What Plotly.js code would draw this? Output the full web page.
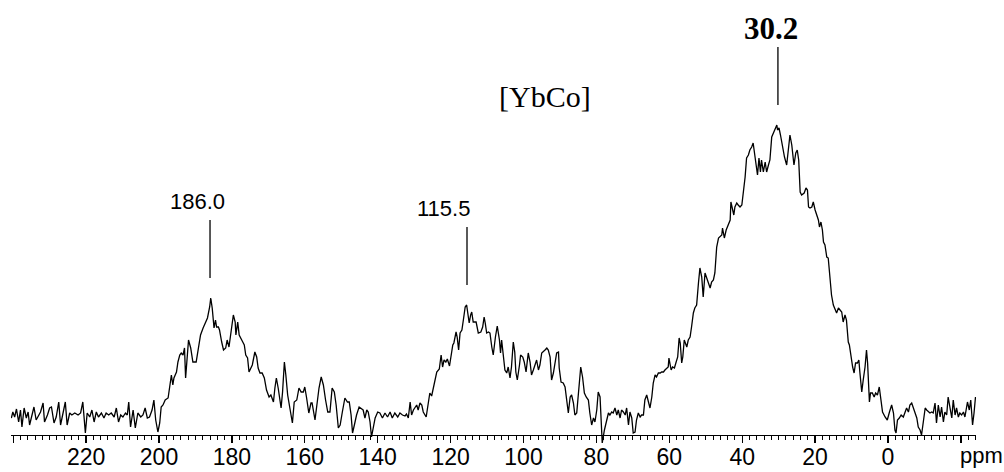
<!DOCTYPE html>
<html>
<head>
<meta charset="utf-8">
<script src="https://cdn.plot.ly/plotly-3.0.1.min.js"></script>
<style>
  html, body { margin: 0; padding: 0; background: #fff; }
  #plot { width: 1004px; height: 472px; }
</style>
</head>
<body>
<div id="plot"></div>
<script>
// 13C MAS NMR spectrum of [YbCo]: chemical shift (ppm) and intensity (arbitrary units)
const shiftPpm = [
  // baseline, high-field side of 200 ppm
  240.5, 240.1, 239.6, 239.1, 238.5, 238.0, 237.6, 237.0, 236.4, 235.9,
  235.5, 234.8, 234.3, 233.7, 233.0, 232.5, 231.8, 231.4, 230.6, 230.0,
  229.5, 228.8, 228.2, 227.5, 227.0, 226.3, 225.7, 225.2, 224.5, 223.9,
  223.1, 222.2, 221.5, 220.9, 220.2, 219.7, 219.0, 218.4, 217.8, 217.2,
  216.6, 215.8, 215.1, 214.5, 213.8, 213.1, 212.3, 211.7, 211.1, 210.5,
  209.9, 209.2, 208.7, 208.3, 207.8, 207.1, 206.5, 205.8, 205.0, 204.4,
  203.8, 203.2, 202.6, 201.9, 201.4, 200.9, 200.3, 199.8, 199.4, 198.9,
  198.3, 197.5, 197.1, 196.6, 196.2, 195.9, 195.2, 194.8, 194.3, 193.9,
  193.4, 193.0, 192.7, 192.2, 191.9, 191.3, 190.7, 189.8, 189.1, 188.6,
  187.9, 187.3, 186.7, 186.1, 185.8,
  // band around 186 ppm
  185.4, 184.9, 184.5, 184.2, 183.7, 183.4, 182.8, 182.3, 181.7, 181.3,
  180.8, 180.2, 179.6, 179.1, 178.9, 178.4, 178.0, 177.3, 176.6, 176.2,
  175.7, 175.3, 174.8, 174.4, 173.7, 173.2, 172.8, 172.3, 171.7, 171.1,
  170.5, 169.8, 169.3, 168.6, 168.2, 167.8, 167.3, 166.5, 166.1, 165.6,
  165.2, 164.7, 164.1, 163.4, 162.9, 162.2, 161.6, 161.0, 160.4, 160.0,
  159.5, 158.9, 158.3, 158.0, 157.2, 156.7, 156.1, 155.5, 154.9, 154.3,
  153.7, 153.1, 152.5, 151.9, 151.4, 150.8, 150.3, 149.7, 149.0, 148.3,
  147.8, 147.3, 146.9, 146.4, 145.8, 145.1, 144.6, 144.0, 143.5, 143.0,
  142.6, 142.1, 141.7, 141.2, 140.7, 140.0, 139.4, 138.7, 138.0, 137.3,
  136.6, 136.0, 135.3, 134.5, 133.9, 133.2,
  // band around 115 ppm
  132.5, 132.1, 131.6, 131.1, 130.7, 130.2, 129.8, 129.3, 128.9, 128.4,
  127.9, 127.5, 126.7, 126.4, 126.0, 125.7, 125.2, 124.7, 124.3, 123.8,
  123.1, 122.6, 122.2, 121.8, 121.3, 120.9, 120.3, 120.0, 119.4, 119.1,
  118.5, 118.2, 117.8, 117.4, 116.9, 116.5, 116.0, 115.6, 115.1, 114.9,
  114.5, 114.2, 113.8, 113.0, 112.4, 111.7, 111.2, 110.8, 110.5, 110.1,
  109.6, 109.2, 108.7, 108.3, 107.7, 107.2, 106.6, 106.3, 106.0, 105.5,
  105.1, 104.6, 104.2, 103.7, 103.3, 102.8, 102.4, 102.1, 101.7, 101.1,
  100.8, 100.2, 99.8, 99.3, 98.7, 98.2, 97.8, 97.3, 96.9, 96.4,
  95.9, 95.5, 95.0, 94.6, 94.1, 93.6, 93.2, 92.7, 92.3, 91.8,
  91.4, 90.9, 90.4, 90.2, 89.7, 89.1, 88.6, 88.1, 87.7, 87.2,
  86.8, 86.3, 85.9, 85.4, 85.0, 84.3, 83.8, 83.3, 82.8, 82.2,
  81.8, 81.3, 80.8, 80.4, 79.9, 79.5,
  // band around 30 ppm
  79.0, 78.7, 78.4, 77.8, 77.2, 76.7, 76.3, 75.8, 75.4, 74.9,
  74.4, 74.0, 73.5, 73.1, 72.6, 72.1, 71.7, 71.2, 70.8, 70.3,
  69.9, 69.4, 69.0, 68.5, 68.0, 67.6, 67.1, 66.7, 66.2, 65.8,
  65.3, 64.8, 64.4, 63.9, 63.5, 63.0, 62.5, 62.1, 61.6, 61.2,
  60.7, 60.3, 60.1, 59.5, 59.1, 58.6, 58.2, 57.7, 57.3, 57.0,
  56.6, 56.3, 55.9, 55.2, 54.8, 54.3, 53.9, 53.4, 53.0, 52.5,
  52.0, 51.6, 51.1, 50.7, 50.2, 49.8, 49.3, 48.8, 48.4, 47.9,
  47.5, 47.0, 46.5, 46.1, 45.6, 45.4, 44.9, 44.4, 44.0, 43.6,
  43.3, 43.1, 42.7, 42.3, 42.0, 41.5, 41.1, 40.6, 40.1, 39.7,
  39.2, 38.8, 38.3, 37.9, 37.4, 37.0, 36.7, 36.2, 35.8, 35.4,
  35.0, 34.7, 34.2, 33.7, 33.3, 32.8, 32.4, 31.9, 31.5, 31.0,
  30.5, 30.3, 29.9, 29.5, 29.0, 28.4, 27.8, 27.3,
  26.9, 26.4, 25.8, 25.3, 24.9, 24.5, 24.1, 23.7, 23.0, 22.5,
  22.1, 21.8, 21.4, 20.9, 20.5, 20.0, 19.6, 19.1, 18.8, 18.4,
  18.0, 17.7, 17.3, 16.8, 16.4, 15.9, 15.5, 15.0, 14.5, 14.1,
  13.6, 13.2, 12.7, 12.3, 11.8, 11.4, 10.9, 10.6, 10.2, 9.7,
  9.3, 8.9, 8.4, 8.0, 7.7, 7.2, 6.8, 6.3, 5.9, 5.6,
  5.1, 4.8, 4.3, 3.8, 3.4, 2.9, 2.4, 1.9, 1.5, 0.8,
  // baseline, low-field end
  0.2, -0.4, -1.0, -1.5, -1.9, -2.2, -2.6, -3.1, -3.6, -4.2,
  -4.7, -5.1, -5.6, -6.0, -6.5, -6.9, -7.4, -7.9, -8.3, -8.8,
  -9.2, -9.7, -10.2, -10.6, -11.1, -11.5, -12.0, -12.4, -12.9, -13.3,
  -13.8, -14.3, -14.7, -15.2, -15.6, -16.1, -16.5, -17.0, -17.5, -17.9,
  -18.4, -18.8, -19.3, -19.7, -20.2, -20.7, -21.1, -21.8, -22.3, -22.7,
  -23.2, -23.6, -24.0
];

const intensity = [
  -8, -2, -7, 1, -12, 0, -17, 2, -8, -2,
  -15, -3, 3, -10, -5, -2, 7, -12, -5, 2,
  3, -13, -7, 8, -15, -2, 8, -15, -3, -5,
  -3, -5, -3, 8, -23, -3, -7, 0, -12, -2,
  -7, -3, -8, -3, -5, -3, -7, 2, -12, -5,
  -7, -3, -5, 8, -17, 0, -18, -3, -7, -5,
  2, -8, -7, 0, 10, -10, -22, -13, 3, 5,
  10, 12, 25, 35, 25, 32, 38, 48, 55, 57,
  55, 62, 32, 58, 70, 62, 48, 48, 62, 75,
  82, 87, 92, 103, 112,

  102, 82, 90, 83, 83, 80, 68, 60, 62, 70,
  63, 78, 95, 88, 75, 88, 75, 70, 65, 55,
  52, 38, 43, 45, 58, 53, 42, 37, 37, 32,
  20, 13, 15, 8, 22, 32, 22, 2, 18, 48,
  35, 15, 2, -13, 8, 10, 22, 18, 18, 23,
  12, -3, 7, 7, -10, 5, 22, 33, 25, 10,
  -2, -2, 22, 18, 5, -18, -15, -2, 12, 8,
  8, -5, -23, -15, -5, 3, 2, 0, -8, 0,
  -2, -12, -27, -15, -8, -2, -3, -8, -3, -7,
  -2, -8, -3, -7, -3, -5,

  -6, -4, -8, 8, -5, 0, 2, 5, 0, 7,
  5, -2, -7, 0, 13, 17, 14, 23, 32, 38,
  41, 55, 43, 50, 48, 51, 44, 53, 65, 67,
  78, 73, 60, 77, 80, 90, 103, 105, 93, 87,
  95, 98, 88, 88, 77, 78, 83, 93, 87, 77,
  78, 77, 63, 55, 73, 84, 70, 57, 70, 53,
  40, 37, 43, 32, 43, 68, 58, 38, 30, 45,
  55, 53, 48, 38, 57, 48, 35, 40, 45, 50,
  40, 45, 57, 58, 60, 62, 60, 53, 30, 37,
  48, 57, 58, 42, 28, 27, 23, 7, -3, 13,
  15, 7, -5, -3, 13, 43, 33, 17, 13, 10,
  -3, -15, -8, -12, 0, 18,

  13, -13, -33, -20, -10, -3, -5, -2, -3, 2,
  -5, 0, -8, 0, -2, -5, 2, -15, -2, -8,
  -23, -22, -10, -3, -7, -5, -5, 10, 15, 8,
  2, 13, 27, 35, 33, 37, 37, 38, 38, 40,
  42, 43, 52, 40, 43, 42, 47, 53, 72, 67,
  47, 53, 70, 63, 70, 73, 83, 97, 102, 105,
  127, 142, 133, 113, 137, 133, 127, 122, 128, 130,
  137, 163, 172, 173, 175, 182, 172, 180, 183, 187,
  190, 208, 200, 195, 203, 207, 205, 203, 205, 217,
  233, 252, 255, 260, 263, 267, 258, 247, 235, 252,
  238, 250, 238, 248, 238, 245, 250, 273, 277, 280,
  285, 280, 282, 275, 263, 253, 245, 260,
  275, 265, 245, 257, 260, 250, 218, 215, 217, 222,
  220, 203, 202, 203, 208, 200, 195, 190, 183, 188,
  180, 168, 165, 153, 152, 130, 115, 105, 100, 97,
  102, 100, 98, 88, 95, 90, 68, 65, 53, 43,
  37, 47, 47, 50, 37, 18, 30, 43, 60, 47,
  8, 17, 17, 13, 17, 15, 23, 10, -2, -7,

  -10, -2, 5, -3, -20, -23, -10, -8, -5, -7,
  -3, 2, -2, 5, 7, 3, -2, -8, -17, -20,
  -25, -12, 2, 0, -2, -3, -2, -3, 7, -13,
  5, -7, 3, -12, -2, -5, 13, 0, -8, 10,
  -5, 2, -7, -3, -5, -2, -7, 8, 0, 10,
  -15, -3, 13
];

// Assigned resonances and the top of each band
const peakShifts = [186.0, 115.5, 30.2];
const peakHeights = [112, 105, 285];
const peakLabels = peakShifts.map(v => v.toFixed(1));

const sampleName = '[YbCo]';
const axisTitle = 'ppm';
const tickValues = [240, 220, 200, 180, 160, 140, 120, 100, 80, 60, 40, 20, 0, -20];
const tickLabels = ['', '220', '200', '180', '160', '140', '120', '100', '80', '60', '40', '20', '0', ''];

// Y range and the level at which the ppm axis is drawn
const yMin = -40, yMax = 390, axisLevel = -25;

const sans = 'Liberation Sans, Arial, Helvetica, sans-serif';
const serif = 'Liberation Serif, Times New Roman, serif';

const labelStyles = [
  { font: { family: sans, size: 22, color: '#000' }, xshift: -13, bold: false },
  { font: { family: sans, size: 22, color: '#000' }, xshift: -24, bold: false },
  { font: { family: serif, size: 31, color: '#000' }, xshift: -7, bold: true }
];

const shapes = peakShifts.map((s, i) => ({
  type: 'line', xref: 'x', yref: 'y',
  x0: s, x1: s,
  y0: peakHeights[i] + 20, y1: peakHeights[i] + 78,
  line: { color: '#000', width: 1.3 }
}));

const annotations = peakShifts.map((s, i) => ({
  xref: 'x', yref: 'y', x: s, y: peakHeights[i] + 97,
  text: labelStyles[i].bold ? '<b>' + peakLabels[i] + '</b>' : peakLabels[i],
  showarrow: false, xanchor: 'center', yanchor: 'middle',
  xshift: labelStyles[i].xshift,
  font: labelStyles[i].font
}));

annotations.push({
  xref: 'x', yref: 'y', x: 94.1, y: 314,
  text: sampleName, showarrow: false, xanchor: 'center', yanchor: 'middle',
  font: { family: serif, size: 30, color: '#000' }
});

annotations.push({
  xref: 'paper', yref: 'paper', x: 1.0052, y: -0.0128,
  text: axisTitle, showarrow: false, xanchor: 'center', yanchor: 'middle',
  font: { family: sans, size: 22, color: '#000' }
});

const trace = {
  type: 'scatter', mode: 'lines',
  x: shiftPpm, y: intensity,
  line: { color: '#000', width: 1.3 },
  hoverinfo: 'skip'
};

const layout = {
  width: 1004, height: 472, autosize: false,
  margin: { l: 11, r: 28, t: 20, b: 22, pad: 0 },
  paper_bgcolor: '#fff', plot_bgcolor: '#fff',
  showlegend: false,
  xaxis: {
    range: [240.6, -24.14],
    anchor: 'free',
    position: (axisLevel - yMin) / (yMax - yMin),
    showline: true, linecolor: '#000', linewidth: 1.3,
    showgrid: false, zeroline: false,
    ticks: 'outside', ticklen: 7, tickwidth: 1.3, tickcolor: '#000',
    ticklabelstandoff: -6,
    tickmode: 'array', tickvals: tickValues, ticktext: tickLabels,
    tickfont: { family: sans, size: 23, color: '#000' },
    minor: { tickmode: 'linear', tick0: 0, dtick: 2, ticks: 'outside', ticklen: 4, tickwidth: 1, tickcolor: '#000', showgrid: false },
    fixedrange: true
  },
  yaxis: { range: [yMin, yMax], visible: false, fixedrange: true },
  shapes: shapes,
  annotations: annotations
};

Plotly.newPlot('plot', [trace], layout, { displayModeBar: false, staticPlot: true });
</script>
</body>
</html>
